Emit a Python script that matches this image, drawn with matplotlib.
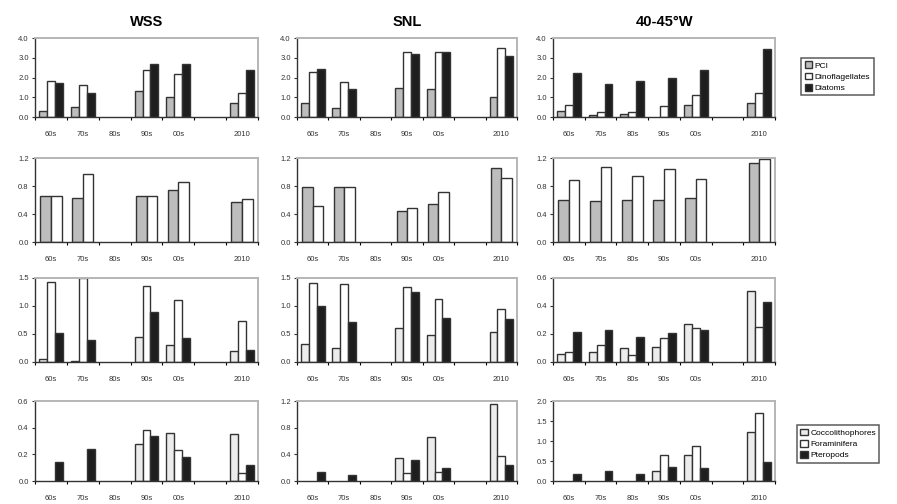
import matplotlib
matplotlib.use('Agg')
import matplotlib.pyplot as plt
import numpy as np

plt.rcParams['font.family'] = ['Liberation Sans', 'DejaVu Sans']

nan = np.nan

# decades along the x axis (6th slot left empty)
decades = ['60s', '70s', '80s', '90s', '00s', '', '2010']
regions = ['WSS', 'SNL', '40-45°W']

# row 1: PCI, dinoflagellates, diatoms
r1_wss = [[0.3, 0.5, nan, 1.3, 1.0, nan, 0.7],
          [1.8, 1.6, nan, 2.4, 2.2, nan, 1.2],
          [1.7, 1.2, nan, 2.7, 2.7, nan, 2.4]]
r1_snl = [[0.7, 0.45, nan, 1.45, 1.4, nan, 1.0],
          [2.3, 1.75, nan, 3.3, 3.3, nan, 3.5],
          [2.45, 1.4, nan, 3.2, 3.3, nan, 3.1]]
r1_ew = [[0.3, 0.1, 0.15, nan, 0.6, nan, 0.7],
         [0.6, 0.25, 0.25, 0.55, 1.1, nan, 1.2],
         [2.25, 1.65, 1.8, 2.0, 2.4, nan, 3.45]]

# row 2: two series
r2_wss = [[0.66, 0.63, nan, 0.66, 0.74, nan, 0.57],
          [0.66, 0.97, nan, 0.66, 0.86, nan, 0.62]]
r2_snl = [[0.78, 0.78, nan, 0.44, 0.55, nan, 1.06],
          [0.51, 0.78, nan, 0.48, 0.71, nan, 0.91]]
r2_ew = [[0.6, 0.58, 0.6, 0.6, 0.63, nan, 1.13],
         [0.89, 1.07, 0.94, 1.05, 0.9, nan, 1.19]]

# row 3: three series
r3_wss = [[0.06, 0.02, nan, 0.44, 0.3, nan, 0.19],
          [1.42, 1.5, nan, 1.35, 1.11, nan, 0.73],
          [0.52, 0.4, nan, 0.89, 0.43, nan, 0.22]]
r3_snl = [[0.32, 0.25, nan, 0.61, 0.49, nan, 0.54],
          [1.41, 1.39, nan, 1.34, 1.13, nan, 0.95],
          [1.0, 0.72, nan, 1.25, 0.78, nan, 0.77]]
r3_ew = [[0.06, 0.07, 0.1, 0.11, 0.27, nan, 0.51],
         [0.075, 0.12, 0.05, 0.17, 0.245, nan, 0.25],
         [0.215, 0.23, 0.18, 0.21, 0.23, nan, 0.43]]

# row 4: coccolithophores, foraminifera, pteropods
r4_wss = [[nan, nan, nan, 0.28, 0.36, nan, 0.35],
          [nan, nan, nan, 0.38, 0.23, nan, 0.06],
          [0.14, 0.24, nan, 0.34, 0.18, nan, 0.12]]
r4_snl = [[nan, nan, nan, 0.34, 0.66, nan, 1.15],
          [nan, nan, nan, 0.12, 0.14, nan, 0.37],
          [0.14, 0.09, nan, 0.31, 0.2, nan, 0.24]]
r4_ew = [[nan, nan, nan, 0.26, 0.65, nan, 1.22],
         [nan, nan, nan, 0.64, 0.87, nan, 1.71],
         [0.18, 0.24, 0.17, 0.34, 0.33, nan, 0.47]]

legend_top = ['PCI', 'Dinoflagellates', 'Diatoms']
legend_bottom = ['Coccolithophores', 'Foraminifera', 'Pteropods']

rows = [[r1_wss, r1_snl, r1_ew],
        [r2_wss, r2_snl, r2_ew],
        [r3_wss, r3_snl, r3_ew],
        [r4_wss, r4_snl, r4_ew]]
yticks = [[np.arange(0, 4.1, 1.0)] * 3,
          [np.arange(0, 1.3, 0.4)] * 3,
          [np.arange(0, 1.6, 0.5), np.arange(0, 1.6, 0.5), np.arange(0, 0.61, 0.2)],
          [np.arange(0, 0.61, 0.2), np.arange(0, 1.3, 0.4), np.arange(0, 2.1, 0.5)]]

fills = ['#bdbdbd', 'white', '#1e1e1e']
fills_light = ['#ececec', 'white', '#1e1e1e']

W, H = 897, 504
col_x = [(35, 258), (297, 517), (553, 775)]
row_y = [(38, 117), (158, 242), (278, 362), (401, 481)]

fig = plt.figure(figsize=(W / 100, H / 100), dpi=100)


def add_legend(ax, handles, labels, anchor):
    leg = ax.legend(handles, labels, loc='upper left', bbox_to_anchor=anchor,
                    fontsize=6, frameon=True, fancybox=False,
                    handlelength=0.9, handleheight=0.9, handletextpad=0.3,
                    borderpad=0.4, labelspacing=0.35)
    leg.get_frame().set_edgecolor('#333333')
    leg.get_frame().set_linewidth(1.1)


x = np.arange(len(decades))
for r, row in enumerate(rows):
    for c, series in enumerate(row):
        x0, x1 = col_x[c]
        y0, y1 = row_y[r]
        ax = fig.add_axes([x0 / W, 1 - y1 / H, (x1 - x0) / W, (y1 - y0) / H])
        n = len(series)
        w = 1.0 / (n + 1)
        cols = fills if r < 2 else fills_light
        handles = []
        for i, vals in enumerate(series):
            vals = np.array(vals, dtype=float)
            ok = ~np.isnan(vals)
            off = (i - (n - 1) / 2) * w
            b = ax.bar(x[ok] + off, vals[ok], width=w, color=cols[i],
                       edgecolor='#333333', linewidth=1.0)
            handles.append(b)
        yt = yticks[r][c]
        ax.set_ylim(0, yt[-1])
        ax.set_xlim(-0.5, len(decades) - 0.5)
        ax.set_yticks(yt)
        ax.set_yticklabels(['%.1f' % v for v in yt])
        ax.set_xticks(x)
        ax.set_xticklabels(decades)
        ax.set_xticks(np.arange(-0.5, len(decades), 1.0), minor=True)
        ax.tick_params(axis='x', which='major', length=0, labelsize=5.5,
                       pad=10, colors='#333333')
        ax.tick_params(axis='x', which='minor', length=2.5, direction='out',
                       width=0.8)
        ax.tick_params(axis='y', length=2.5, width=0.8, labelsize=5.5, pad=2,
                       colors='#333333')
        for s in ['top', 'right']:
            ax.spines[s].set_color('#b5b5b5')
            ax.spines[s].set_linewidth(1.4)
        for s in ['left', 'bottom']:
            ax.spines[s].set_color('#333333')
            ax.spines[s].set_linewidth(1.0)
        if r == 0:
            ax.set_title(regions[c], fontsize=10.5, fontweight='bold', pad=9)
        if r == 0 and c == 2:
            add_legend(ax, handles, legend_top, (1.10, 0.80))
        if r == 3 and c == 2:
            add_legend(ax, handles, legend_bottom, (1.08, 0.75))

fig.savefig('out.png', dpi=100)
